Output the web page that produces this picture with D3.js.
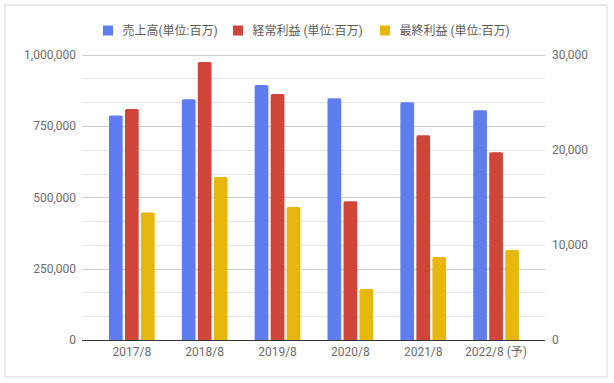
<!DOCTYPE html>
<html><head><meta charset="utf-8">
<script src="https://cdn.jsdelivr.net/npm/d3@7/dist/d3.min.js"></script>
<style>body{margin:0;background:#fff}svg{display:block;font-family:Roboto,"Noto Sans CJK JP",sans-serif}</style>
</head><body><svg id="c" width="614" height="383"></svg>
<script>
const categories = ["2017/8","2018/8","2019/8","2020/8","2021/8","2022/8 (予)"];
const sales = [787000, 843500, 893700, 847000, 833000, 805000];
const ordinaryProfit = [24290, 29230, 25860, 14580, 21520, 19730];
const netProfit = [13420, 17140, 13980, 5360, 8730, 9460];
const seriesNames = ["売上高(単位:百万)", "経常利益 (単位:百万)", "最終利益 (単位:百万)"];
const seriesColors = ["#5f7cf0", "#d0453a", "#e6b80f"];
const leftTicks = [0, 250000, 500000, 750000, 1000000];
const rightTicks = [0, 10000, 20000, 30000];

const svg = d3.select("#c");
svg.append("rect").attr("x",5).attr("y",5).attr("width",602).attr("height",372)
  .attr("fill","#fff").attr("stroke","#d6d6d6").attr("stroke-width",1);

const plotTop = 54.7, plotBottom = 340, gx0 = 82, gx1 = 545;
const yL = d3.scaleLinear().domain([0,1000000]).range([plotBottom, plotTop]);
const yR = d3.scaleLinear().domain([0,30000]).range([plotBottom, plotTop]);
const x = d3.scaleBand().domain(categories).range([95.4, 532.5]);

// gridlines (12 divisions)
const gridVals = d3.range(1,13).map(i => i*1000000/12);
svg.append("g").selectAll("line").data(gridVals).join("line")
  .attr("x1",gx0).attr("x2",gx1)
  .attr("y1",d=>Math.round(yL(d))+0.5).attr("y2",d=>Math.round(yL(d))+0.5)
  .attr("stroke",(d,i)=> ((i+1)%3===0) ? "#cccccc" : "#e6e6e6").attr("stroke-width",1);

// bars
const bw = 13.7, gap = 2.3;
const groupW = bw*3 + gap*2;
const series = [
  {vals: sales, y: yL},
  {vals: ordinaryProfit, y: yR},
  {vals: netProfit, y: yR}
];
function topRounded(x0, y0, w, h, r) {
  return `M${x0},${y0+h}V${y0+r}Q${x0},${y0} ${x0+r},${y0}H${x0+w-r}Q${x0+w},${y0} ${x0+w},${y0+r}V${y0+h}Z`;
}
series.forEach((s, si) => {
  svg.append("g").selectAll("path").data(categories).join("path")
    .attr("fill", seriesColors[si])
    .attr("d", (c, i) => {
      const cx = x(c) + x.bandwidth()/2;
      const x0 = cx - groupW/2 + si*(bw+gap);
      const y0 = s.y(s.vals[i]);
      return topRounded(x0, y0, bw, plotBottom - y0, 1.5);
    });
});

// baseline
svg.append("line").attr("x1",gx0).attr("x2",gx1).attr("y1",plotBottom+0.5).attr("y2",plotBottom+0.5)
  .attr("stroke","#333").attr("stroke-width",1);

// axes
const fmt = d3.format(",");
const axL = d3.axisLeft(yL).tickValues(leftTicks).tickFormat(fmt).tickSize(0).tickPadding(0);
const gL = svg.append("g").attr("transform","translate(76,0)").call(axL);
const axR = d3.axisRight(yR).tickValues(rightTicks).tickFormat(fmt).tickSize(0).tickPadding(0);
const gR = svg.append("g").attr("transform","translate(552,0)").call(axR);
const axB = d3.axisBottom(x).tickSize(0).tickPadding(0);
const gB = svg.append("g").attr("transform",`translate(0,${plotBottom})`).call(axB);
[gL,gR,gB].forEach(g => {
  g.select(".domain").remove();
  g.selectAll("text").attr("fill","#6b6b6b").style("font-size","12px")
    .style("font-family","Roboto, 'Noto Sans CJK JP', sans-serif");
});
gB.selectAll("text").attr("dy",null).attr("y",16);

// legend
const legX = [103, 233, 380];
const leg = svg.append("g");
seriesNames.forEach((n,i) => {
  leg.append("rect").attr("x",legX[i]).attr("y",25.5).attr("width",10).attr("height",10).attr("fill",seriesColors[i]);
  leg.append("text").attr("x",legX[i]+19.5).attr("y",30.5).attr("dy","0.35em")
    .attr("fill","#5a5a5a").style("font-size","12px").text(n);
});
</script></body></html>
